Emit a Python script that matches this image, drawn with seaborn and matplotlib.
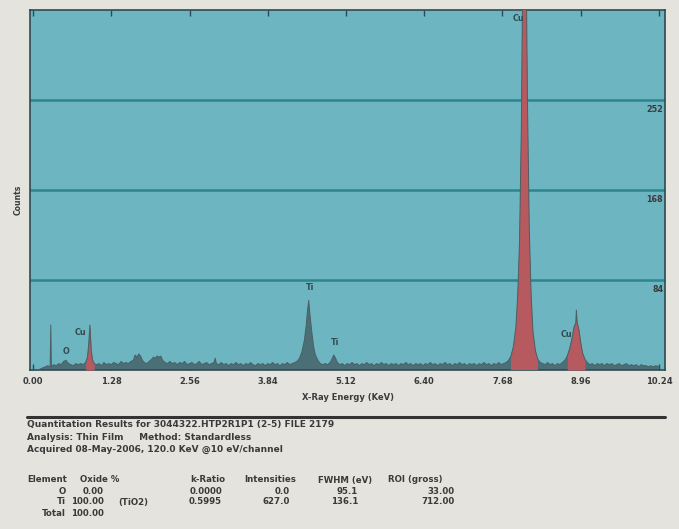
import numpy as np
import matplotlib
matplotlib.use("Agg")
import matplotlib.pyplot as plt
import seaborn as sns

# EDS spectrum (energy in keV, counts)
energy = [
    0.00, 0.04, 0.08, 0.12, 0.16, 0.20, 0.24, 0.28, 0.29, 0.30,
    0.34, 0.38, 0.42, 0.46, 0.50, 0.54, 0.58, 0.62, 0.66, 0.70, 0.74, 0.78, 0.82, 0.86,
    0.89, 0.91, 0.93, 0.95, 0.97, 1.00,
    1.04, 1.08, 1.12, 1.16, 1.20, 1.24, 1.28, 1.32, 1.36, 1.40, 1.44, 1.48, 1.52, 1.56, 1.60,
    1.64, 1.67, 1.70, 1.73, 1.76, 1.79, 1.82, 1.86, 1.90, 1.94, 1.97, 2.00, 2.03, 2.06, 2.09, 2.12,
    2.16, 2.20, 2.24, 2.28, 2.32, 2.36, 2.40, 2.44, 2.48, 2.52, 2.56, 2.60, 2.64, 2.68, 2.72, 2.76,
    2.80, 2.84, 2.88, 2.92, 2.96, 2.98, 3.00, 3.04, 3.08, 3.12, 3.16, 3.20, 3.24, 3.28, 3.32, 3.36,
    3.40, 3.44, 3.48, 3.52, 3.56, 3.60, 3.64, 3.68, 3.72, 3.76, 3.80, 3.84, 3.88, 3.92, 3.96, 4.00,
    4.04, 4.08, 4.12, 4.16, 4.20, 4.24, 4.28,
    4.32, 4.36, 4.40, 4.44, 4.47, 4.49, 4.51, 4.53, 4.56, 4.59, 4.62, 4.66, 4.70, 4.74, 4.78, 4.82,
    4.86, 4.89, 4.92, 4.95, 4.98, 5.02,
    5.06, 5.10, 5.14, 5.18, 5.22, 5.26, 5.30, 5.34, 5.38, 5.42, 5.46, 5.50, 5.54, 5.58, 5.62, 5.66,
    5.70, 5.74, 5.78, 5.82, 5.86, 5.90, 5.94, 5.98, 6.02, 6.06, 6.10, 6.14, 6.18, 6.22, 6.26, 6.30,
    6.34, 6.38, 6.42, 6.46, 6.50, 6.54, 6.58, 6.62, 6.66, 6.70, 6.74, 6.78, 6.82, 6.86, 6.90, 6.94,
    6.98, 7.02, 7.06, 7.10, 7.14, 7.18, 7.22, 7.26, 7.30, 7.34, 7.38, 7.42, 7.46, 7.50, 7.54, 7.58,
    7.62, 7.66, 7.70, 7.74,
    7.78, 7.82, 7.86, 7.90, 7.93, 7.96, 7.99, 8.02, 8.04, 8.06, 8.09, 8.12, 8.15, 8.18, 8.22, 8.26, 8.30,
    8.34, 8.38, 8.42, 8.46, 8.50, 8.54, 8.58, 8.62, 8.66,
    8.70, 8.74, 8.78, 8.82, 8.85, 8.88, 8.89, 8.90, 8.93, 8.96, 8.99, 9.03, 9.07,
    9.11, 9.15, 9.19, 9.23, 9.27, 9.31, 9.35, 9.39, 9.43, 9.47, 9.51, 9.55, 9.59, 9.63, 9.67, 9.71,
    9.75, 9.79, 9.83, 9.87, 9.91, 9.95, 9.99, 10.03, 10.07, 10.11, 10.15, 10.19, 10.24,
]
counts = [
    0, 0, 0, 1, 2, 3, 4, 3, 42, 3,
    5, 4, 6, 5, 8, 9, 6, 5, 4, 6, 5, 6, 5, 7,
    12, 24, 42, 20, 10, 6,
    5, 6, 4, 7, 5, 6, 5, 7, 6, 5, 8, 6, 7, 6, 8,
    9, 14, 12, 15, 13, 9, 7, 6, 8, 10, 12, 11, 13, 12, 13, 9,
    7, 6, 8, 6, 7, 5, 7, 6, 8, 5, 6, 7, 5, 6, 8, 5,
    6, 7, 5, 6, 7, 11, 6, 5, 7, 5, 6, 4, 6, 5, 7, 5,
    6, 4, 6, 5, 7, 5, 4, 6, 5, 6, 4, 6, 5, 7, 5, 6,
    4, 6, 5, 7, 5, 6, 7,
    8, 11, 17, 28, 42, 55, 65, 52, 36, 22, 14, 9, 6, 5, 6, 5,
    7, 10, 14, 11, 7, 5,
    6, 4, 6, 5, 7, 5, 6, 4, 6, 5, 7, 5, 6, 4, 6, 5,
    7, 5, 6, 4, 6, 5, 6, 4, 6, 5, 7, 5, 6, 4, 6, 5,
    6, 4, 6, 5, 7, 5, 6, 4, 6, 5, 7, 5, 6, 4, 6, 5,
    7, 5, 6, 4, 6, 5, 6, 4, 6, 5, 7, 5, 6, 4, 6, 5,
    7, 5, 6, 7,
    9, 13, 22, 40, 70, 120, 230, 420, 560, 430, 250, 130, 70, 36, 18, 10, 7,
    6, 5, 7, 5, 6, 4, 6, 5, 7,
    9, 13, 20, 30, 40, 44, 56, 45, 38, 26, 16, 10, 7,
    5, 6, 4, 6, 5, 6, 4, 6, 5, 6, 4, 5, 6, 4, 5, 6,
    4, 5, 4, 5, 3, 5, 4, 4, 3, 4, 3, 4, 3,
]

# Cu regions of interest shown in red
cu_roi = [(0.86, 1.00), (7.82, 8.26), (8.72, 9.05)]

peak_names = ["O", "Cu", "Ti", "Ti", "Cu", "Cu"]
peak_label_x = [0.54, 0.77, 4.53, 4.94, 7.95, 8.72]
peak_label_y = [17, 35, 77, 26, 328, 33]

x_ticks = [0.00, 1.28, 2.56, 3.84, 5.12, 6.40, 7.68, 8.96, 10.24]
y_grid = [84, 168, 252]

header_lines = [
    "Quantitation Results for 3044322.HTP2R1P1 (2-5) FILE 2179",
    "Analysis: Thin Film     Method: Standardless",
    "Acquired 08-May-2006, 120.0 KeV @10 eV/channel",
]
table_cols = ["Element", "Oxide %", "", "k-Ratio", "Intensities", "FWHM (eV)", "ROI (gross)"]
table_rows = [
    ["O", "0.00", "", "0.0000", "0.0", "95.1", "33.00"],
    ["Ti", "100.00", "(TiO2)", "0.5995", "627.0", "136.1", "712.00"],
    ["Total", "100.00", "", "", "", "", ""],
]

paper = "#e5e3dd"
teal = "#6db5c1"
grid_col = "#2d858d"
spec_col = "#4b6f77"
red = "#b65a60"
ink = "#3a3a3a"

sns.set_style("white")
plt.rcParams["font.family"] = ["DejaVu Sans"]

fig = plt.figure(figsize=(6.79, 5.29), dpi=100, facecolor=paper)
ax = fig.add_axes([30 / 679, 1 - 370 / 529, 635 / 679, 360 / 529])
ax.set_facecolor(teal)

e = np.array(energy)
c = np.array(counts)

for g in y_grid:
    ax.axhline(g, color=grid_col, lw=1.8, zorder=1)
    ax.text(10.31, g - 5, str(g), ha="right", va="top", fontsize=5.8,
            fontweight="bold", color=ink, zorder=5)

ax.fill_between(e, c, 0, color=spec_col, lw=0, zorder=2)
for lo, hi in cu_roi:
    m = (e >= lo) & (e <= hi)
    ax.fill_between(e[m], c[m], 0, color=red, lw=0, zorder=3)
sns.lineplot(x=e, y=c, ax=ax, color="#4d5f63", lw=0.7, zorder=4,
             estimator=None, sort=False)

for name, px, py in zip(peak_names, peak_label_x, peak_label_y):
    ax.text(px, py, name, ha="center", va="center", fontsize=5.8,
            fontweight="bold", color="#2f4a50", zorder=6)

ax.set_xlim(-0.05, 10.34)
ax.set_ylim(0, 336)
ax.set_xticks(x_ticks)
ax.set_xticklabels([f"{t:.2f}" for t in x_ticks], fontsize=6,
                   fontweight="bold", color=ink)
ax.set_yticks([])
ax.tick_params(axis="x", direction="in", length=4, width=1, color="#2f4a50",
               top=True, bottom=True, pad=5)
for s in ax.spines.values():
    s.set_color("#2f4a50")
    s.set_linewidth(1.2)
ax.set_xlabel("")
ax.set_ylabel("")

fig.text(348 / 679, 1 - 397 / 529, "X-Ray Energy (KeV)", ha="center", va="center",
         fontsize=6, fontweight="bold", color=ink)
fig.text(18 / 679, 1 - 200 / 529, "Counts", ha="center", va="center",
         rotation=90, fontsize=5.6, fontweight="bold", color=ink)

fig.add_artist(plt.Line2D([27 / 679, 665 / 679], [1 - 417 / 529, 1 - 417 / 529],
                          color="#333333", lw=2.2))

for i, line in enumerate(header_lines):
    fig.text(27 / 679, 1 - (425 + 12 * i) / 529, line, ha="left", va="center",
             fontsize=6.5, fontweight="bold", color=ink)

# table columns: (x position in px, alignment)
col_pos = [(27, "left"), (80, "left"), (118, "left"), (190, "left"),
           (244, "left"), (318, "left"), (388, "left")]
row_pos = [(66, "right"), (104, "right"), (118, "left"), (222, "right"),
           (290, "right"), (358, "right"), (455, "right")]
for (px, ha), label in zip(col_pos, table_cols):
    fig.text(px / 679, 1 - 480 / 529, label, ha=ha, va="center",
             fontsize=6.2, fontweight="bold", color=ink)
for r, row in enumerate(table_rows):
    for (px, ha), val in zip(row_pos, row):
        fig.text(px / 679, 1 - (491 + 11 * r) / 529, val, ha=ha, va="center",
                 fontsize=6.2, fontweight="bold", color=ink)

fig.savefig("out.png", dpi=100, facecolor=paper)
